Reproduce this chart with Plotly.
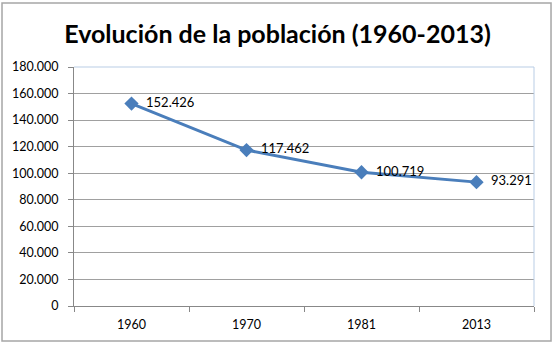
import plotly.graph_objects as go

years = ["1960", "1970", "1981", "2013"]
population = [152426, 117462, 100719, 93291]
labels = ["152.426", "117.462", "100.719", "93.291"]
y_ticks = [0, 20000, 40000, 60000, 80000, 100000, 120000, 140000, 160000, 180000]
y_tick_text = ["0", "20.000", "40.000", "60.000", "80.000", "100.000", "120.000", "140.000", "160.000", "180.000"]

fig = go.Figure()
fig.add_trace(go.Scatter(
    x=years, y=population, mode="lines+markers+text",
    text=["  " + t for t in labels], textposition="middle right",
    textfont=dict(family="Lato", size=13, color="#000000"),
    line=dict(color="#4A7EBB", width=3),
    marker=dict(symbol="diamond", size=11, color="#4A7EBB"),
    cliponaxis=False, showlegend=False,
))

fig.update_layout(
    width=555, height=345,
    margin=dict(l=74, r=21, t=67, b=39),
    paper_bgcolor="white", plot_bgcolor="white",
    title=dict(text="<b>Evolución de la población (1960-2013)</b>",
               font=dict(family="Lato", size=25, color="#000000"),
               x=0.5, xanchor="center", y=0.9, yanchor="middle", yref="container"),
    xaxis=dict(type="category", showgrid=False, showline=True, linecolor="#888888", linewidth=1,
               ticks="outside", ticklen=5, tickcolor="#888888", tickson="boundaries",
               ticklabelstandoff=7,
               tickfont=dict(family="Lato", size=12.5, color="#000000"), range=[-0.5, 3.5]),
    yaxis=dict(range=[0, 180000], tickvals=y_ticks, ticktext=y_tick_text,
               showgrid=True, gridcolor="#A0A0A0", gridwidth=1,
               showline=True, linecolor="#888888", linewidth=1,
               ticks="outside", ticklen=5, tickcolor="#888888", ticklabelstandoff=7,
               tickfont=dict(family="Lato", size=12.5, color="#000000"), zeroline=False),
)

# plot area border (top/right) and outer chart border
fig.add_shape(type="line", xref="x domain", yref="y domain", x0=0, x1=1, y0=1, y1=1,
              line=dict(color="#B9CDE5", width=1))
fig.add_shape(type="line", xref="x domain", yref="y domain", x0=1, x1=1, y0=0, y1=1,
              line=dict(color="#B9CDE5", width=1))
fig.add_shape(type="rect", xref="paper", yref="paper", x0=-0.1565, x1=1.037, y0=-0.146, y1=1.268,
              line=dict(color="#A6A6A6", width=1.5))

fig.write_html("out.html")
